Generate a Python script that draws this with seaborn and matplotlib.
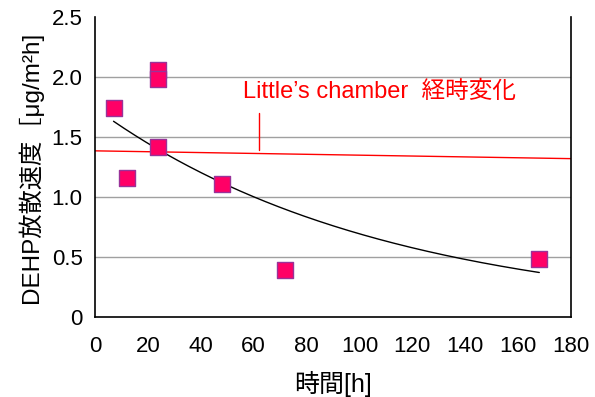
import numpy as np
import pandas as pd
import matplotlib
matplotlib.use("Agg")
import matplotlib.pyplot as plt
import seaborn as sns

# data
hours = [7, 12, 24, 24, 24, 48, 72, 168]
rates = [1.74, 1.16, 2.06, 1.98, 1.42, 1.11, 0.39, 0.48]

# exponential trendline parameters (y = a * exp(-b x)) and range
trend_a = 1.74
trend_b = 0.0092
trend_range = [7, 168]

# Little's chamber line (start / end values)
little_x = [0, 180]
little_y = [1.385, 1.32]

x_ticks = [0, 20, 40, 60, 80, 100, 120, 140, 160, 180]
y_ticks = [0, 0.5, 1.0, 1.5, 2.0, 2.5]

sns.set_theme(style="white")
plt.rcParams['font.family'] = ['Liberation Sans', 'Noto Sans CJK JP', 'DejaVu Sans']
plt.rcParams.update({"text.color": "black", "axes.labelcolor": "black",
                     "xtick.color": "black", "ytick.color": "black"})

fig = plt.figure(figsize=(5.95, 3.97), dpi=100)
ax = fig.add_axes([0.1597, 0.2015, 0.8, 0.7555])

df = pd.DataFrame({"hours": hours, "rate": rates})

tx = np.linspace(trend_range[0], trend_range[1], 200)
ty = trend_a * np.exp(-trend_b * tx)

for gy in y_ticks[1:-1]:
    ax.axhline(gy, color="#a0a0a0", lw=1.0, zorder=0)

sns.lineplot(x=little_x, y=little_y, ax=ax, color="#ff0000", lw=1.0, zorder=2)
sns.lineplot(x=tx, y=ty, ax=ax, color="black", lw=1.0, zorder=2)
sns.scatterplot(data=df, x="hours", y="rate", ax=ax, marker="s", s=125,
                color="#ff0066", edgecolor="#993399", linewidth=1.0, zorder=3)

ax.plot([62, 62], [1.39, 1.70], color="#ff0000", lw=1.0, zorder=2)
ax.text(56, 1.875, "Little\u2019s chamber  経時変化", color="#ff0000",
        fontsize=17, va="center", ha="left")

ax.set_xlim(0, 180)
ax.set_ylim(0, 2.5)
ax.set_xticks(x_ticks)
ax.set_yticks(y_ticks)
ax.set_xticklabels([str(v) for v in x_ticks])
ax.set_yticklabels(["0", "0.5", "1.0", "1.5", "2.0", "2.5"])
ax.tick_params(axis="x", direction="in", length=4, width=1, colors="black",
               labelsize=16, pad=14)
ax.tick_params(axis="y", direction="in", length=0, colors="black",
               labelsize=16, pad=9)

for side in ["left", "bottom", "right"]:
    ax.spines[side].set_color("black")
    ax.spines[side].set_linewidth(1.2)
ax.spines["top"].set_visible(False)

ax.set_xlabel("時間[h]", fontsize=18, labelpad=10, color="black")
ax.set_ylabel("DEHP放散速度［μg/m²h]", fontsize=17.5, labelpad=6, color="black")

fig.savefig("out.png", dpi=100)
